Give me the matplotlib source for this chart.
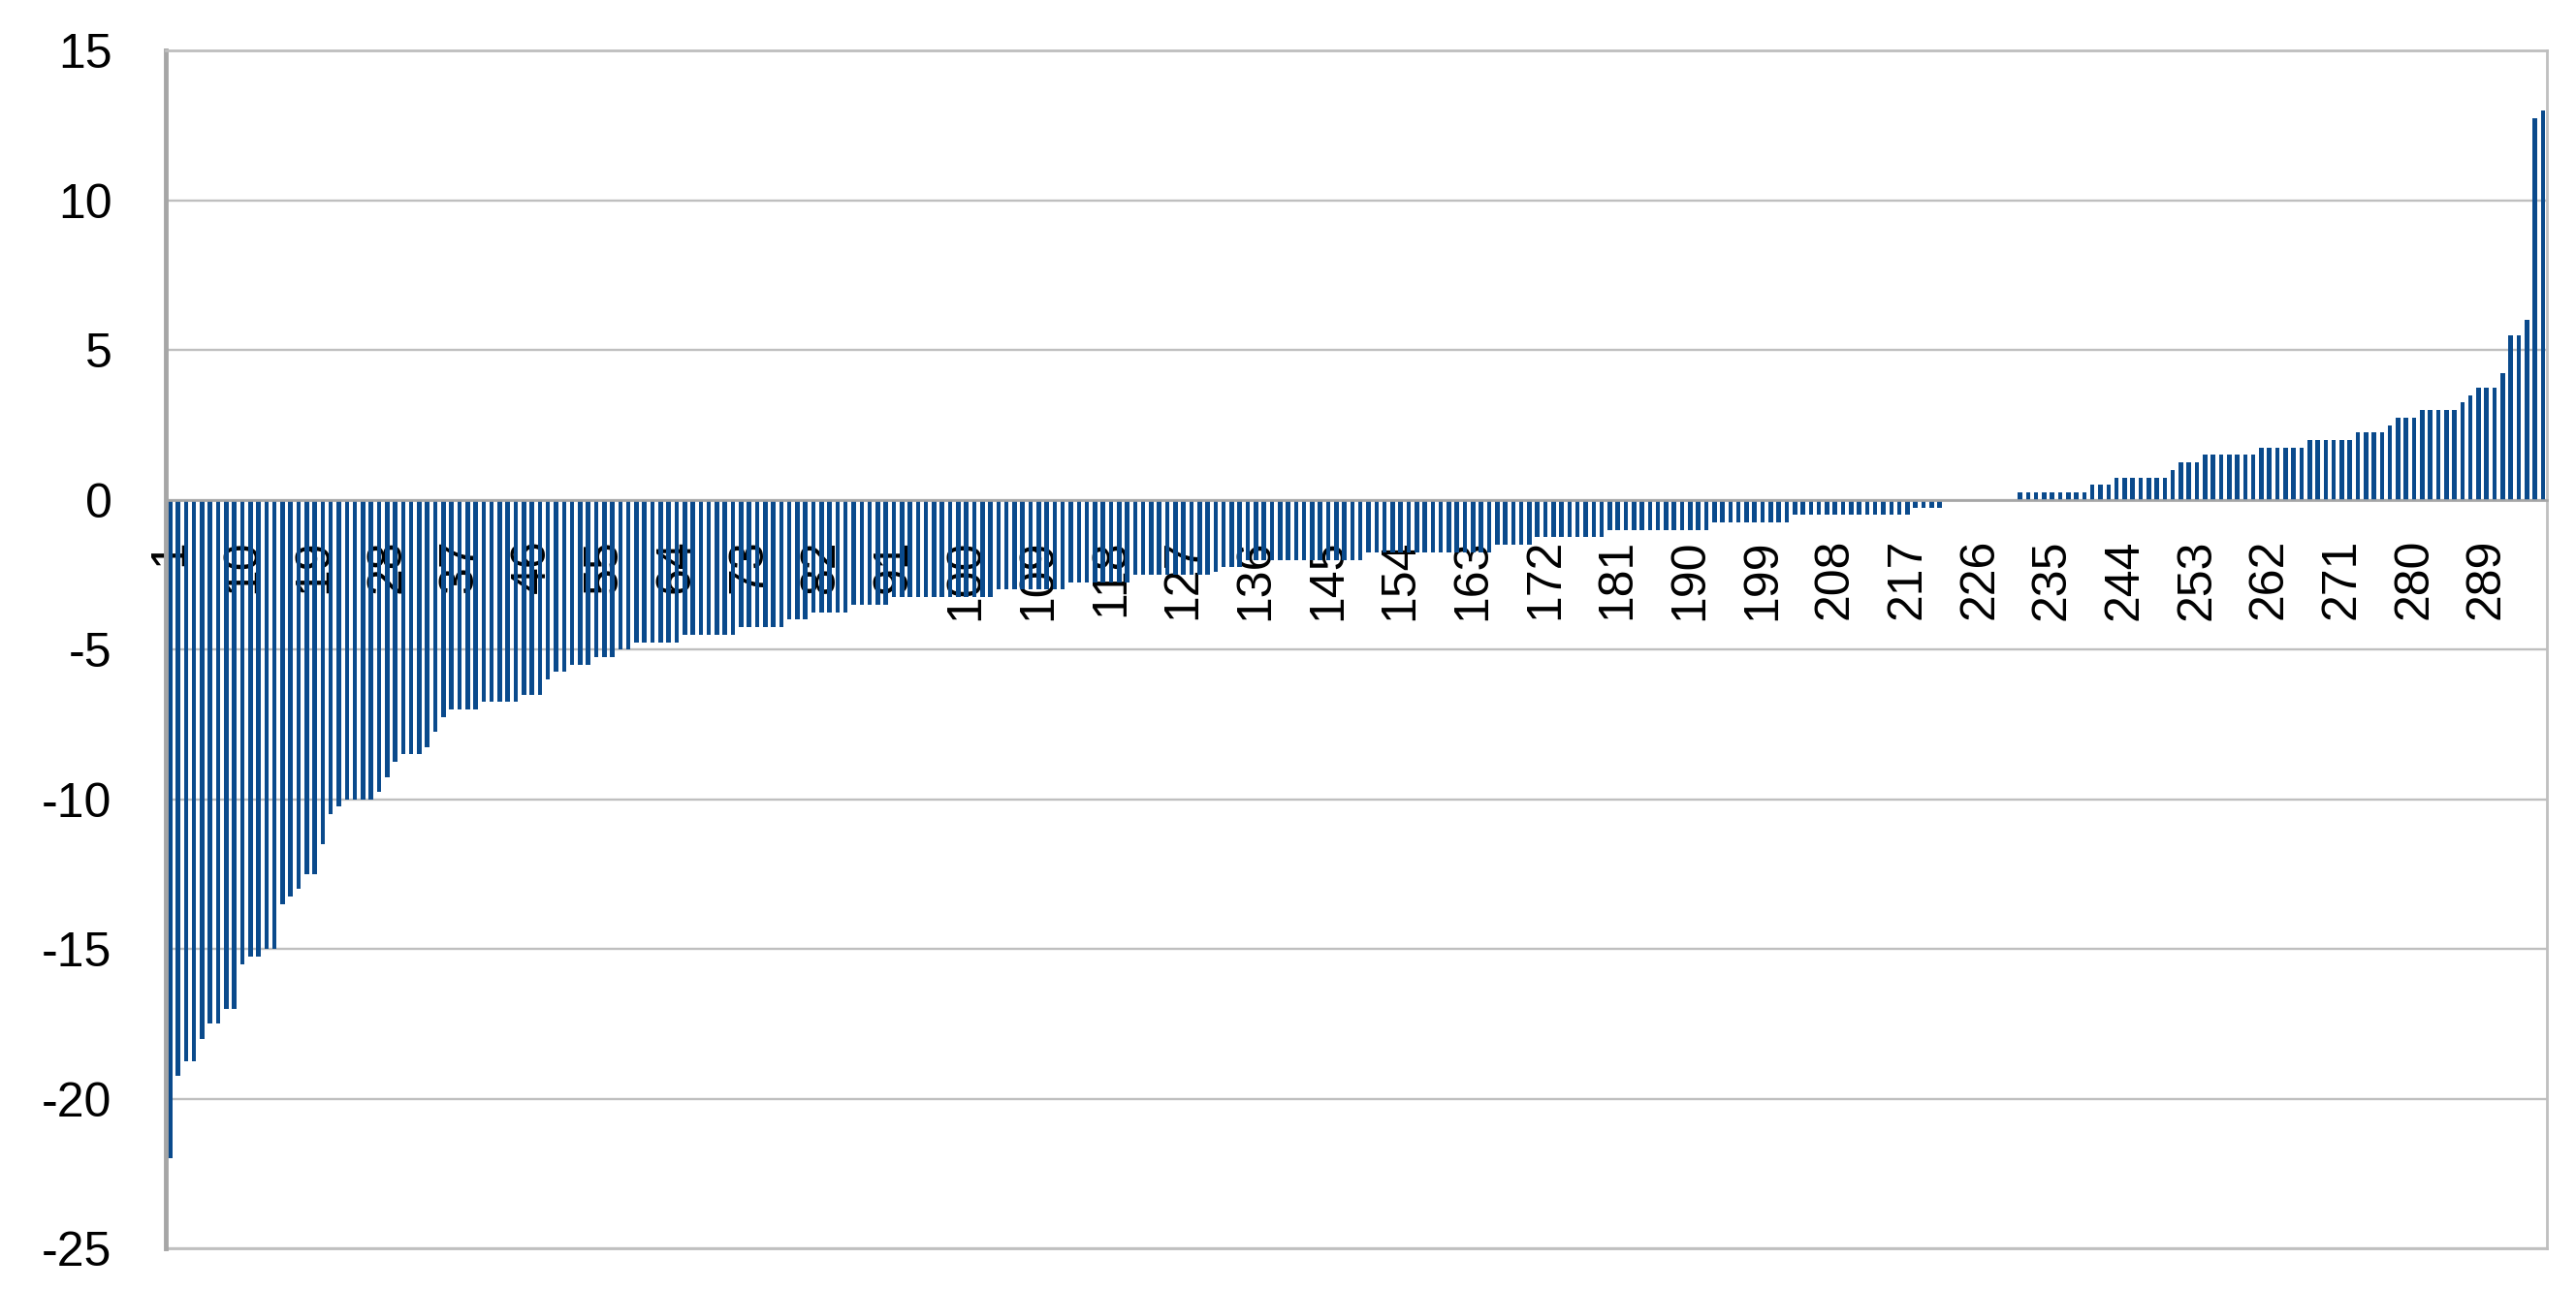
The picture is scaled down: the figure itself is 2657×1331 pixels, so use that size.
import matplotlib
matplotlib.use("Agg")
import matplotlib.pyplot as plt

BAR_C = "#0A4A8C"
GRID_C = "#BFBFBF"
AXIS_C = "#A6A6A6"

plt.rcParams.update({
    "font.family": "Liberation Sans",
    "axes.unicode_minus": False,
})

# values, one bar per item (sorted ascending)
values = [
    -22.0, -19.25, -18.75, -18.75, -18.0, -17.5, -17.5, -17.0, -17.0, -15.5,
    -15.25, -15.25, -15.0, -15.0, -13.5, -13.25, -13.0, -12.5, -12.5, -11.5,
    -10.5, -10.25, -10.0, -10.0, -10.0, -10.0, -9.75, -9.25, -8.75, -8.5,
    -8.5, -8.5, -8.25, -7.75, -7.25, -7.0, -7.0, -7.0, -7.0, -6.75,
    -6.75, -6.75, -6.75, -6.75, -6.5, -6.5, -6.5, -6.0, -5.75, -5.75,
    -5.5, -5.5, -5.5, -5.25, -5.25, -5.25, -5.0, -5.0, -4.75, -4.75,
    -4.75, -4.75, -4.75, -4.75, -4.5, -4.5, -4.5, -4.5, -4.5, -4.5,
    -4.5, -4.25, -4.25, -4.25, -4.25, -4.25, -4.25, -4.0, -4.0, -4.0,
    -3.75, -3.75, -3.75, -3.75, -3.75, -3.5, -3.5, -3.5, -3.5, -3.5,
    -3.25, -3.25, -3.25, -3.25, -3.25, -3.25, -3.25, -3.25, -3.25, -3.25,
    -3.25, -3.25, -3.25, -3.0, -3.0, -3.0, -3.0, -3.0, -3.0, -3.0,
    -3.0, -3.0, -2.75, -2.75, -2.75, -2.75, -2.75, -2.75, -2.75, -2.75,
    -2.5, -2.5, -2.5, -2.5, -2.5, -2.5, -2.5, -2.5, -2.5, -2.5,
    -2.4, -2.25, -2.25, -2.25, -2.0, -2.0, -2.0, -2.0, -2.0, -2.0,
    -2.0, -2.0, -2.0, -2.0, -2.0, -2.0, -2.0, -2.0, -2.0, -1.75,
    -1.75, -1.75, -1.75, -1.75, -1.75, -1.75, -1.75, -1.75, -1.75, -1.75,
    -1.75, -1.75, -1.75, -1.75, -1.75, -1.5, -1.5, -1.5, -1.5, -1.5,
    -1.25, -1.25, -1.25, -1.25, -1.25, -1.25, -1.25, -1.25, -1.25, -1.0,
    -1.0, -1.0, -1.0, -1.0, -1.0, -1.0, -1.0, -1.0, -1.0, -1.0,
    -1.0, -1.0, -0.75, -0.75, -0.75, -0.75, -0.75, -0.75, -0.75, -0.75,
    -0.75, -0.75, -0.5, -0.5, -0.5, -0.5, -0.5, -0.5, -0.5, -0.5,
    -0.5, -0.5, -0.5, -0.5, -0.5, -0.5, -0.5, -0.25, -0.25, -0.25,
    -0.25, 0.0, 0.0, 0.0, 0.0, 0.0, 0.0, 0.0, 0.0, 0.0,
    0.25, 0.25, 0.25, 0.25, 0.25, 0.25, 0.25, 0.25, 0.25, 0.5,
    0.5, 0.5, 0.75, 0.75, 0.75, 0.75, 0.75, 0.75, 0.75, 1.0,
    1.25, 1.25, 1.25, 1.5, 1.5, 1.5, 1.5, 1.5, 1.5, 1.5,
    1.75, 1.75, 1.75, 1.75, 1.75, 1.75, 2.0, 2.0, 2.0, 2.0,
    2.0, 2.0, 2.25, 2.25, 2.25, 2.25, 2.5, 2.75, 2.75, 2.75,
    3.0, 3.0, 3.0, 3.0, 3.0, 3.25, 3.5, 3.75, 3.75, 3.75,
    4.25, 5.5, 5.5, 6.0, 12.75, 13.0,
]
positions = list(range(1, len(values) + 1))
x_ticks = positions[::9]            # 1, 10, 19, ... 289
x_labels = [str(p) for p in x_ticks]
y_ticks = [-25, -20, -15, -10, -5, 0, 5, 10, 15]

fig = plt.figure(figsize=(26.57, 13.31), dpi=100)
ax = fig.add_axes([0.0644, 0.0323, 0.9243, 0.9283])

ax.bar(positions, values, width=0.55, color=BAR_C, zorder=2)

ax.set_xlim(0.5, len(values) + 0.5)
ax.set_ylim(y_ticks[0], y_ticks[-1])
ax.set_yticks(y_ticks)
ax.set_yticklabels([str(v) for v in y_ticks])
ax.grid(axis="y", color=GRID_C, lw=1.7)
ax.set_axisbelow(True)

# category axis crosses at zero, labels hang just under it
ax.spines["bottom"].set_position(("data", 0))
ax.spines["bottom"].set_color(AXIS_C)
ax.spines["bottom"].set_linewidth(1.9)
ax.spines["left"].set_color(AXIS_C)
ax.spines["left"].set_linewidth(3.5)
for s in ("top", "right"):
    ax.spines[s].set_color(GRID_C)
    ax.spines[s].set_linewidth(2.0)
ax.axhline(y_ticks[0], color=GRID_C, lw=2.0, clip_on=False)

ax.set_xticks(x_ticks)
ax.set_xticklabels(x_labels, rotation=90)
ax.tick_params(axis="x", length=0, pad=29, labelsize=36)
ax.tick_params(axis="y", length=0, pad=40, labelsize=36)

fig.savefig("out.png", dpi=100)
